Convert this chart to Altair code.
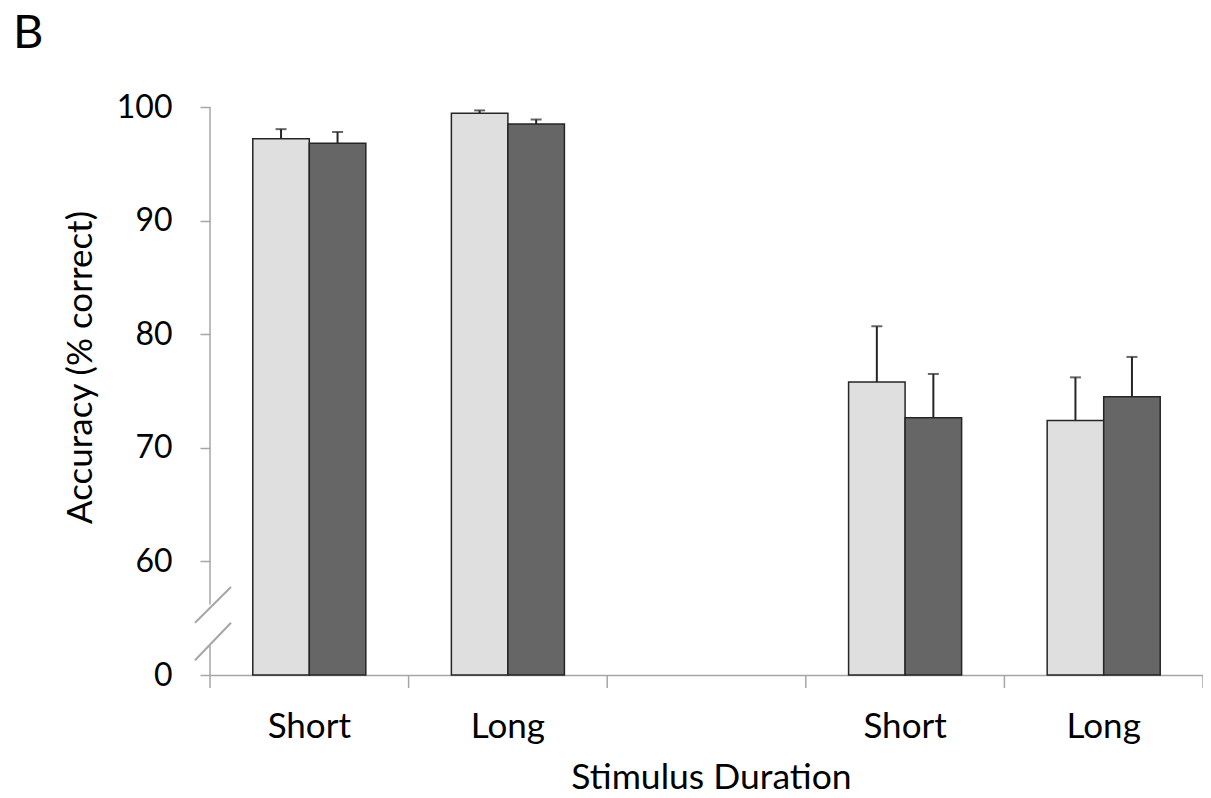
import altair as alt
import pandas as pd

# ---- data ----
cat_keys = ["S1", "L1", "gap", "S2", "L2"]
cat_labels = ["Short", "Long", "", "Short", "Long"]
groups = ["light", "dark"]
light_means = [97.2, 99.45, None, 75.8, 72.4]
light_upper = [98.05, 99.7, None, 80.7, 76.2]
dark_means = [96.8, 98.5, None, 72.65, 74.5]
dark_upper = [97.8, 98.9, None, 76.5, 78.0]
y_ticks = [50, 60, 70, 80, 90, 100]
y_axis_segments_top = [56.2, 50.0]
y_axis_segments_bottom = [100.0, 52.6]
break_low = [54.6, 51.3]
break_high = [57.75, 54.6]

rows = []
for k, lm, lu, dm, du in zip(cat_keys, light_means, light_upper, dark_means, dark_upper):
    if lm is None:
        continue
    rows.append({"cat": k, "grp": "light", "mean": lm, "upper": lu})
    rows.append({"cat": k, "grp": "dark", "mean": dm, "upper": du})
df = pd.DataFrame(rows)
ticks_df = pd.DataFrame({"cat": cat_keys})
last_df = pd.DataFrame({"cat": [cat_keys[-1]]})
yaxis_df = pd.DataFrame({"a": y_axis_segments_top, "b": y_axis_segments_bottom})
break_df = pd.DataFrame({"lo": break_low, "hi": break_high})
label_df = pd.DataFrame({"t": ["B"]})

GRAY = "#a6a6a6"
FONT = "Lato"

label_expr = " : ".join(
    f"datum.value == '{k}' ? '{l}'" for k, l in zip(cat_keys, cat_labels)
) + " : ''"

x_scale = alt.Scale(domain=cat_keys, paddingInner=0, paddingOuter=0)
x_axis = alt.Axis(
    title="Stimulus Duration", labelExpr=label_expr, labelAngle=0,
    ticks=False, domain=True, domainColor=GRAY, domainWidth=1.5,
    labelFont=FONT, labelFontSize=35, labelColor="#000", labelPadding=62,
    labelBaseline="alphabetic",
    titleFont=FONT, titleFontSize=35.5, titleFontWeight="normal", titleColor="#000",
    titleX=501, titleAlign="center", titleY=113, titleBaseline="alphabetic",
)
y_scale = alt.Scale(domain=[50, 100], zero=False, nice=False)
y_axis = alt.Axis(
    title="Accuracy (% correct)", values=y_ticks,
    labelExpr="datum.value == 50 ? '0' : datum.label",
    domain=False, ticks=True, tickSize=10, tickColor=GRAY, tickWidth=1.5,
    grid=False, labelFont=FONT, labelFontSize=32, labelColor="#000",
    labelPadding=28,
    titleFont=FONT, titleFontSize=35, titleFontWeight="normal", titleColor="#000",
    titleX=-130, titleY=260, titleBaseline="middle",
)

xoff = alt.XOffset("grp:N", scale=alt.Scale(domain=groups, paddingInner=0, paddingOuter=0.757))
color = alt.Color("grp:N", scale=alt.Scale(domain=groups, range=["#dfdfdf", "#666666"]), legend=None)

bars = alt.Chart(df).mark_bar(stroke="#262626", strokeWidth=1.5).encode(
    x=alt.X("cat:N", scale=x_scale, axis=x_axis),
    xOffset=xoff,
    y=alt.Y("mean:Q", scale=y_scale, axis=y_axis),
    y2=alt.datum(50),
    color=color,
)

err = alt.Chart(df).mark_rule(color="#262626", strokeWidth=2).encode(
    x=alt.X("cat:N", scale=x_scale, axis=x_axis),
    xOffset=xoff,
    y=alt.Y("mean:Q", scale=y_scale, axis=y_axis),
    y2="upper:Q",
)

caps = alt.Chart(df).mark_tick(color="#262626", size=11, thickness=2, orient="horizontal").encode(
    x=alt.X("cat:N", scale=x_scale, axis=x_axis),
    xOffset=xoff,
    y=alt.Y("upper:Q", scale=y_scale, axis=y_axis),
)

xticks = alt.Chart(ticks_df).mark_rule(color=GRAY, strokeWidth=1.5).encode(
    x=alt.X("cat:N", scale=x_scale, axis=x_axis, bandPosition=0),
    y=alt.value(568), y2=alt.value(581),
)
xtick_last = alt.Chart(last_df).mark_rule(color=GRAY, strokeWidth=1.5).encode(
    x=alt.X("cat:N", scale=x_scale, axis=x_axis, bandPosition=1),
    y=alt.value(568), y2=alt.value(581),
)

yline = alt.Chart(yaxis_df).mark_rule(color=GRAY, strokeWidth=1.5).encode(
    x=alt.value(0),
    y=alt.Y("a:Q", scale=y_scale, axis=y_axis),
    y2="b:Q",
)

breaks = alt.Chart(break_df).mark_rule(color=GRAY, strokeWidth=2).encode(
    x=alt.value(-15), x2=alt.value(21),
    y=alt.Y("lo:Q", scale=y_scale, axis=y_axis),
    y2="hi:Q",
)

panel = alt.Chart(label_df).mark_text(
    font=FONT, fontSize=47, align="left", baseline="alphabetic", color="#000"
).encode(text="t:N", x=alt.value(-197), y=alt.value(-59))

chart = alt.layer(bars, err, caps, xticks, xtick_last, yline, breaks, panel).properties(
    width=993, height=568,
    autosize=alt.AutoSizeParams(type="none"),
    padding={"left": 202, "top": 99, "right": 0, "bottom": 122},
).configure_view(strokeWidth=0)

chart.save("out.html", embed_options={"renderer": "svg", "actions": False})
